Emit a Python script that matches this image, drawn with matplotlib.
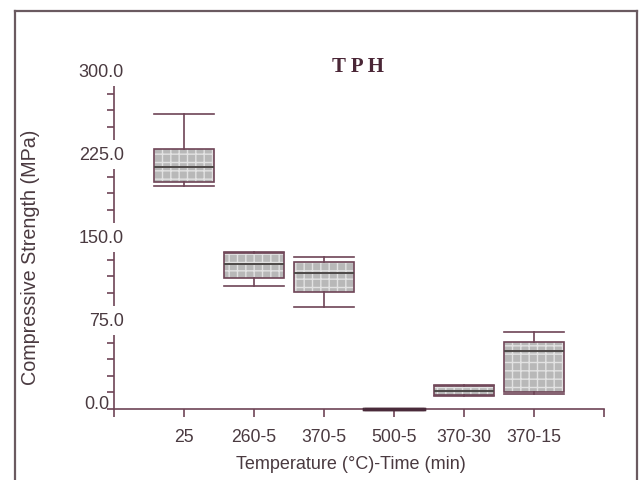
import matplotlib
matplotlib.use("Agg")
import matplotlib.pyplot as plt
from matplotlib.lines import Line2D
from matplotlib.patches import PathPatch

# compressive strength of TPH after heat treatment, MPa
groups = ["25", "260-5", "370-5", "500-5", "370-30", "370-15"]
whis_hi = [267, 142, 137, 0, 22, 70]
q3 = [235, 141, 133, 0, 21, 61]
median = [219, 131, 123, 0, 16, 52]
q1 = [205, 118, 106, 0, 13, 15]
whis_lo = [202, 111, 92, 0, 12, 14]

y_major = [0, 75, 150, 225, 300]

ink = "#6e4456"
txt = "#4a3a40"

plt.rcParams["font.family"] = ["Liberation Sans", "DejaVu Sans"]
plt.rcParams["hatch.linewidth"] = 1.0

fig = plt.figure(figsize=(6.4, 4.81), dpi=100)
ax = fig.add_axes([0.178, 0.1476, 0.766, 0.690])

stats = []
for i, g in enumerate(groups):
    stats.append(dict(label=g, whislo=whis_lo[i], q1=q1[i], med=median[i],
                      q3=q3[i], whishi=whis_hi[i]))

pos = list(range(1, len(groups) + 1))
bp = ax.bxp(stats, positions=pos, widths=0.86, capwidths=0.86,
            showfliers=False, patch_artist=True, zorder=4,
            boxprops=dict(facecolor="#b8b8b8", edgecolor="#e2e2e2", linewidth=0,
                          hatch="++"),
            medianprops=dict(color="#4e4a48", linewidth=1.4, zorder=4.2),
            whiskerprops=dict(color=ink, linewidth=1.2),
            capprops=dict(color=ink, linewidth=1.2))

# hatch takes the edge colour, so draw the box outline on top
for b in bp["boxes"]:
    ax.add_patch(PathPatch(b.get_path(), transform=b.get_transform(),
                           fill=False, edgecolor=ink, linewidth=1.2, zorder=4.1))
# the 500-5 group collapses onto the axis
flat = PathPatch(bp["boxes"][3].get_path(), fill=False, edgecolor="#4a2a3a",
                 linewidth=2.4, zorder=4.3)
ax.add_patch(flat)
flat.set_clip_on(False)
for ln in bp["caps"][6:8]:
    ln.set_clip_on(False)
    ln.set_color("#4a2a3a")
    ln.set_linewidth(2.4)

ax.set_xlim(0, 7)
ax.set_ylim(0, 300)

for s in ["top", "right"]:
    ax.spines[s].set_visible(False)
for s in ["left", "bottom"]:
    ax.spines[s].set_color(ink)
    ax.spines[s].set_linewidth(1.2)

ax.set_xticks(range(0, 8))
ax.set_xticklabels([""] + groups + [""], fontsize=12.7, color=txt)
ax.tick_params(axis="x", direction="out", length=6, width=1.2, color=ink, pad=8)

ax.set_yticks(y_major)
ax.set_yticks(range(0, 301, 15), minor=True)
ax.set_yticklabels([])
ax.tick_params(axis="y", which="both", direction="out", length=5, width=1.2,
               color=ink)

# y labels sit on the axis line itself, breaking it
for v in y_major:
    if v == 0:
        ax.annotate("%.1f" % v, xy=(0, v), xycoords=("axes fraction", "data"),
                    xytext=(-3, 4), textcoords="offset points",
                    ha="right", va="center", fontsize=13, color=txt)
    else:
        ax.annotate("%.1f" % v, xy=(0, v), xycoords=("axes fraction", "data"),
                    xytext=(7, 4), textcoords="offset points",
                    ha="right", va="center", fontsize=13, color=txt,
                    bbox=dict(boxstyle="square,pad=0.35", fc="white", ec="none"),
                    clip_on=False, zorder=5)

ax.set_xlabel("Temperature (°C)-Time (min)", fontsize=13, color=txt)
ax.xaxis.set_label_coords(0.484, -0.139)
ax.set_ylabel("Compressive Strength (MPa)", fontsize=14.2, color=txt)
ax.yaxis.set_label_coords(-0.151, 0.46)

fig.text(0.56, 0.86, "T P H", ha="center", va="center",
         fontsize=15, fontweight="bold", family="Liberation Serif", color="#4a2636")

# outer frame, open at the bottom
frame_kw = dict(color="#6a5a60", linewidth=1.6, transform=fig.transFigure)
fig.add_artist(Line2D([15 / 640, 15 / 640], [0, 1 - 12 / 481], **frame_kw))
fig.add_artist(Line2D([637 / 640, 637 / 640], [0, 1 - 12 / 481], **frame_kw))
fig.add_artist(Line2D([15 / 640, 637 / 640], [1 - 12 / 481, 1 - 12 / 481], **frame_kw))

fig.savefig("out.png", dpi=100)
